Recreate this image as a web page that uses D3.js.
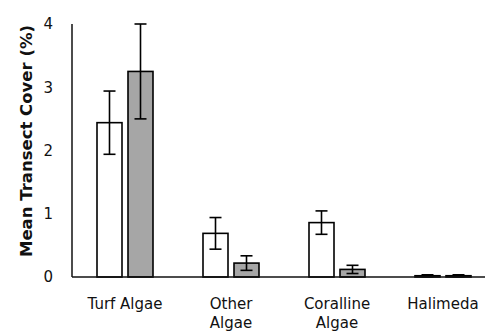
<!DOCTYPE html>
<html>
<head>
<meta charset="utf-8">
<script src="https://cdn.jsdelivr.net/npm/d3@7"></script>
<style>
  html, body { margin: 0; padding: 0; background: #fff; }
  svg { display: block; }
  text { font-family: "DejaVu Sans", sans-serif; fill: #111; }
</style>
</head>
<body>
<svg id="chart" width="485" height="333"></svg>
<script>
// Mean transect cover by algal group, two survey groups (open vs. grey bars)
const categories = ["Turf Algae", "Other\nAlgae", "Coralline\nAlgae", "Halimeda"];
const seriesA = [2.44, 0.69, 0.86, 0.02];      // white bars
const seriesAErr = [0.50, 0.25, 0.185, 0.015];
const seriesB = [3.25, 0.22, 0.12, 0.02];      // grey bars
const seriesBErr = [0.75, 0.115, 0.065, 0.015];
const yTicks = [0, 1, 2, 3, 4];

const svg = d3.select("#chart");
const plotLeft = 72, plotTop = 24, plotBottom = 277;

const x = d3.scaleBand().domain(categories).range([plotLeft, plotLeft + 424]).padding(0);
const y = d3.scaleLinear().domain([0, 4]).range([plotBottom, plotTop]);

const barW = 25, gap = 6;
const series = [
  { values: seriesA, errs: seriesAErr, fill: "#ffffff", offset: -(gap / 2 + barW) },
  { values: seriesB, errs: seriesBErr, fill: "#a6a6a6", offset: gap / 2 }
];

// bars
series.forEach(s => {
  svg.append("g").selectAll("rect")
    .data(categories)
    .join("rect")
    .attr("x", (c) => x(c) + x.bandwidth() / 2 + s.offset)
    .attr("y", (c, i) => y(s.values[i]))
    .attr("width", barW)
    .attr("height", (c, i) => y(0) - y(s.values[i]))
    .attr("fill", s.fill)
    .attr("stroke", "#000")
    .attr("stroke-width", 1.6);
});

// error bars
series.forEach(s => {
  const g = svg.append("g").attr("stroke", "#000").attr("stroke-width", 1.6);
  categories.forEach((c, i) => {
    const cx = x(c) + x.bandwidth() / 2 + s.offset + barW / 2;
    const hi = y(s.values[i] + s.errs[i]);
    const lo = y(Math.max(0, s.values[i] - s.errs[i]));
    g.append("line").attr("x1", cx).attr("x2", cx).attr("y1", hi).attr("y2", lo);
    g.append("line").attr("x1", cx - 6).attr("x2", cx + 6).attr("y1", hi).attr("y2", hi);
    g.append("line").attr("x1", cx - 6).attr("x2", cx + 6).attr("y1", lo).attr("y2", lo);
  });
});

// axes lines
svg.append("line").attr("x1", plotLeft).attr("x2", plotLeft).attr("y1", y(4)).attr("y2", y(0))
  .attr("stroke", "#111").attr("stroke-width", 1.5);
svg.append("line").attr("x1", plotLeft).attr("x2", 485).attr("y1", y(0)).attr("y2", y(0))
  .attr("stroke", "#111").attr("stroke-width", 1.5);

// y tick labels
const yAxis = d3.axisLeft(y).tickValues(yTicks).tickFormat(d3.format("d")).tickSize(0).tickPadding(19);
const ya = svg.append("g").attr("transform", `translate(${plotLeft},0)`).call(yAxis);
ya.select(".domain").remove();
ya.selectAll("text").style("font-size", "15px").style("font-family", "DejaVu Sans, sans-serif").attr("fill", "#111");

// category labels
const xl = svg.append("g");
categories.forEach(c => {
  const lines = c.split("\n");
  const t = xl.append("text")
    .attr("x", x(c) + x.bandwidth() / 2)
    .attr("y", 309)
    .attr("text-anchor", "middle")
    .style("font-size", "15px");
  lines.forEach((ln, k) => {
    t.append("tspan").attr("x", x(c) + x.bandwidth() / 2).attr("dy", k === 0 ? 0 : 19).text(ln);
  });
});

// y title
svg.append("text")
  .attr("transform", `translate(32,141) rotate(-90)`)
  .attr("text-anchor", "middle")
  .style("font-size", "16.5px")
  .style("font-weight", "bold")
  .text("Mean Transect Cover (%)");
</script>
</body>
</html>
